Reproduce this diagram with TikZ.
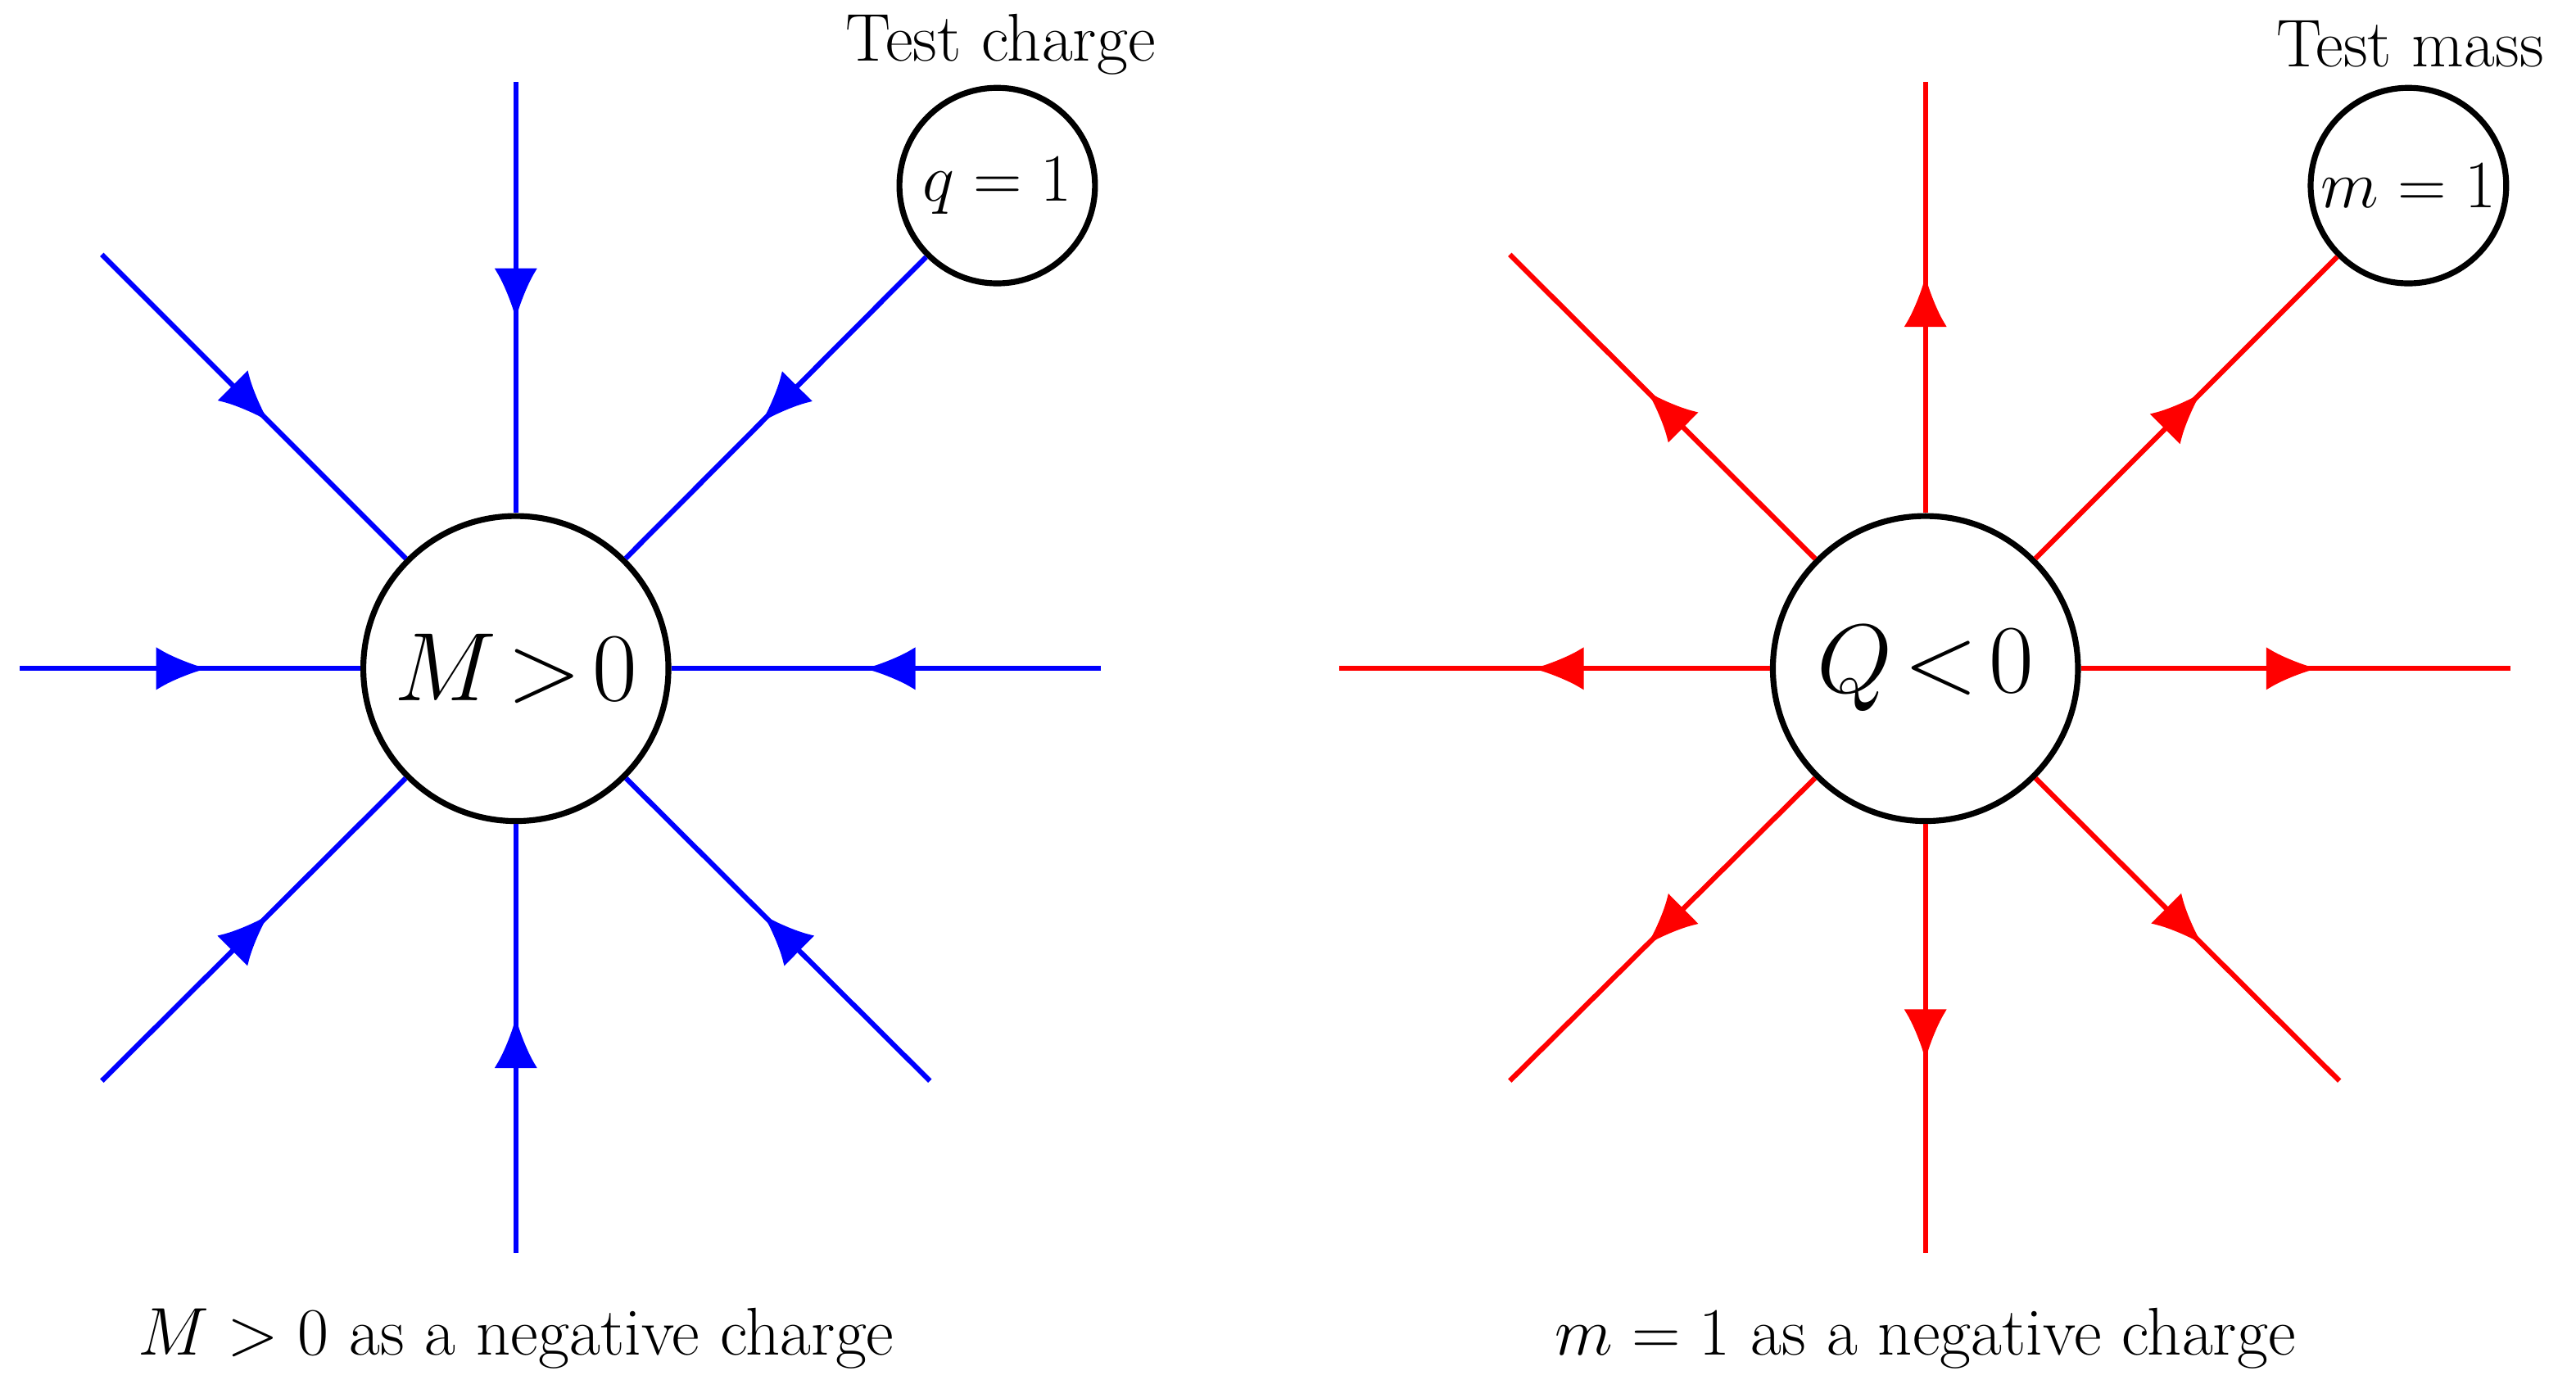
\documentclass[tikz,border=0pt]{standalone}
\usetikzlibrary{decorations.markings,arrows.meta}
\begin{document}
\begin{tikzpicture}[x=0.42pt,y=-0.42pt,
  big/.style={circle,draw=black,line width=1.5pt,minimum size=78pt,inner sep=0pt,font=\fontsize{32}{38}\selectfont},
  small/.style={circle,draw=black,line width=1.5pt,minimum size=50pt,inner sep=0pt,font=\LARGE},
  fl/.style={line width=1.3pt,postaction={decorate},decoration={markings,mark=at position 0.55 with {\arrow{Latex[length=13pt,width=11pt]}}}},
  bl/.style={fl,draw=blue,fill=blue},
  rl/.style={fl,draw=red,fill=red},
  lab/.style={font=\LARGE}]
\useasboundingbox (0,0) rectangle (1568,851);
% left
\node[big] (M) at (314,407) {$M\!>\!0$};
\node[small] (q) at (607,113) {$q=1$};
\node[lab] (tc) at (609,27) {Test charge};
\node[lab] (c1) at (314,815) {$M>0$ as a negative charge};
\coordinate (l1) at (12,407); \coordinate (l2) at (670,407);
\coordinate (l3) at (314,50); \coordinate (l4) at (314,763);
\coordinate (l5) at (62,155); \coordinate (l6) at (62,658);
\coordinate (l7) at (566,658);
\foreach \p in {l1,l2,l3,l4,l5,l6,l7} \draw[bl] (\p) -- (M);
\draw[bl] (q) -- (M);
% right
\node[big] (Q) at (1172,407) {$Q\!<\!0$};
\node[small] (m) at (1466,113) {$m=1$};
\node[lab] (tm) at (1467,27) {Test mass};
\node[lab] (c2) at (1172,815) {$m=1$ as a negative charge};
\coordinate (r1) at (815,407); \coordinate (r2) at (1528,407);
\coordinate (r3) at (1172,50); \coordinate (r4) at (1172,763);
\coordinate (r5) at (919,155); \coordinate (r6) at (919,658);
\coordinate (r7) at (1424,658);
\foreach \p in {r1,r2,r3,r4,r5,r6,r7} \draw[rl] (Q) -- (\p);
\draw[rl] (Q) -- (m);
\end{tikzpicture}
\end{document}
